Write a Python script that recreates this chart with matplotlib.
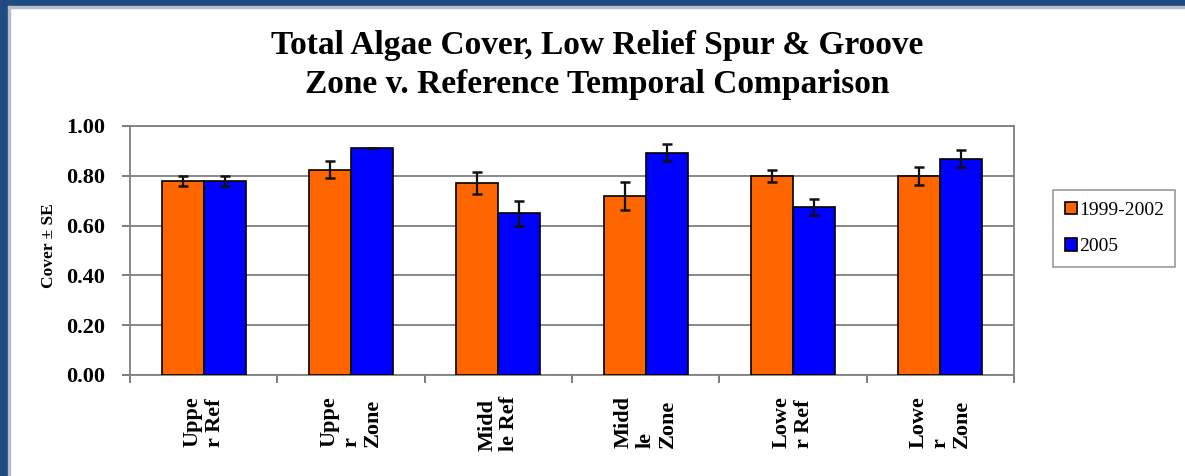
import numpy as np
import matplotlib.pyplot as plt
from matplotlib.patches import Rectangle

# chart data
categories = ["Uppe\nr Ref", "Uppe\nr\nZone", "Midd\nle Ref", "Midd\nle\nZone", "Lowe\nr Ref", "Lowe\nr\nZone"]
series_names = ["1999-2002", "2005"]
cover_early = [0.78, 0.825, 0.77, 0.72, 0.80, 0.80]
se_early = [0.02, 0.035, 0.045, 0.057, 0.024, 0.035]
cover_2005 = [0.78, 0.913, 0.65, 0.893, 0.675, 0.869]
se_2005 = [0.02, 0.0, 0.05, 0.035, 0.033, 0.035]
yticks = [0.0, 0.2, 0.4, 0.6, 0.8, 1.0]

plt.rcParams['font.family'] = ['Liberation Serif', 'DejaVu Serif']

fig = plt.figure(figsize=(11.85, 4.76), dpi=100)

# dark blue frame on the left and top edges, thin grey line inside it
fig.patches.append(Rectangle((0, 0), 8 / 1185, 1, transform=fig.transFigure, color='#1f4a82', zorder=0))
fig.patches.append(Rectangle((0, 1 - 6 / 476), 1, 6 / 476, transform=fig.transFigure, color='#1f4a82', zorder=0))
fig.patches.append(Rectangle((8 / 1185, 0), 2 / 1185, 1 - 6 / 476, transform=fig.transFigure, color='#b8bcc4', zorder=0))
fig.patches.append(Rectangle((8 / 1185, 1 - 8 / 476), 1, 2 / 476, transform=fig.transFigure, color='#b8bcc4', zorder=0))

ax = fig.add_axes([0.1097, 0.2122, 0.7460, 0.5231])

x = np.arange(len(categories))
w = 1 / 3.5
err_kw = dict(ecolor='#111111', elinewidth=1.6, capsize=3.5, capthick=1.8)
b1 = ax.bar(x - w / 2, cover_early, w, yerr=se_early, color='#ff6600', edgecolor='black',
            linewidth=1.2, error_kw=err_kw, label=series_names[0], zorder=3)
b2 = ax.bar(x + w / 2, cover_2005, w, yerr=se_2005, color='#0000ff', edgecolor='black',
            linewidth=1.2, error_kw=err_kw, label=series_names[1], zorder=3)

ax.set_xlim(-0.5, len(categories) - 0.5)
ax.set_ylim(0, 1.0)
ax.set_yticks(yticks)
ax.set_yticklabels(["%.2f" % v for v in yticks], fontsize=16, fontweight='bold')
ax.yaxis.grid(True, color='#808080', linewidth=1.3, zorder=0)
ax.set_axisbelow(True)

# ticks between categories, labels centered
ax.set_xticks(np.arange(-0.5, len(categories), 1.0))
ax.set_xticklabels([])
ax.set_xticks(x, minor=True)
ax.set_xticklabels(categories, minor=True, rotation=90, fontsize=16, fontweight='bold',
                   va='top', ha='center', multialignment='left', linespacing=1.12)
ax.tick_params(axis='x', which='minor', length=0, pad=15)
ax.tick_params(axis='x', which='major', length=6, color='#666666', width=1.2)
ax.tick_params(axis='y', length=6, color='#666666', width=1.2, pad=12)

for s in ax.spines.values():
    s.set_color('#808080')
    s.set_linewidth(1.3)

ax.set_ylabel("Cover ± SE", fontsize=12.5, fontweight='bold')
ax.yaxis.set_label_coords(-0.083, 0.52)

fig.text(0.504, 0.905, "Total Algae Cover, Low Relief Spur & Groove", ha='center', va='center',
         fontsize=24, fontweight='bold')
fig.text(0.504, 0.822, "Zone v. Reference Temporal Comparison", ha='center', va='center',
         fontsize=24, fontweight='bold')

leg = fig.legend(handles=[b1, b2], loc='center left', bbox_to_anchor=(0.889, 0.52),
                 fontsize=14, frameon=True, fancybox=False, edgecolor='#808080',
                 handlelength=0.6, handleheight=0.6, handletextpad=0.1, labelspacing=1.0,
                 borderpad=0.6, borderaxespad=0)
leg.get_frame().set_linewidth(1.2)

fig.savefig("out.png", dpi=100)
